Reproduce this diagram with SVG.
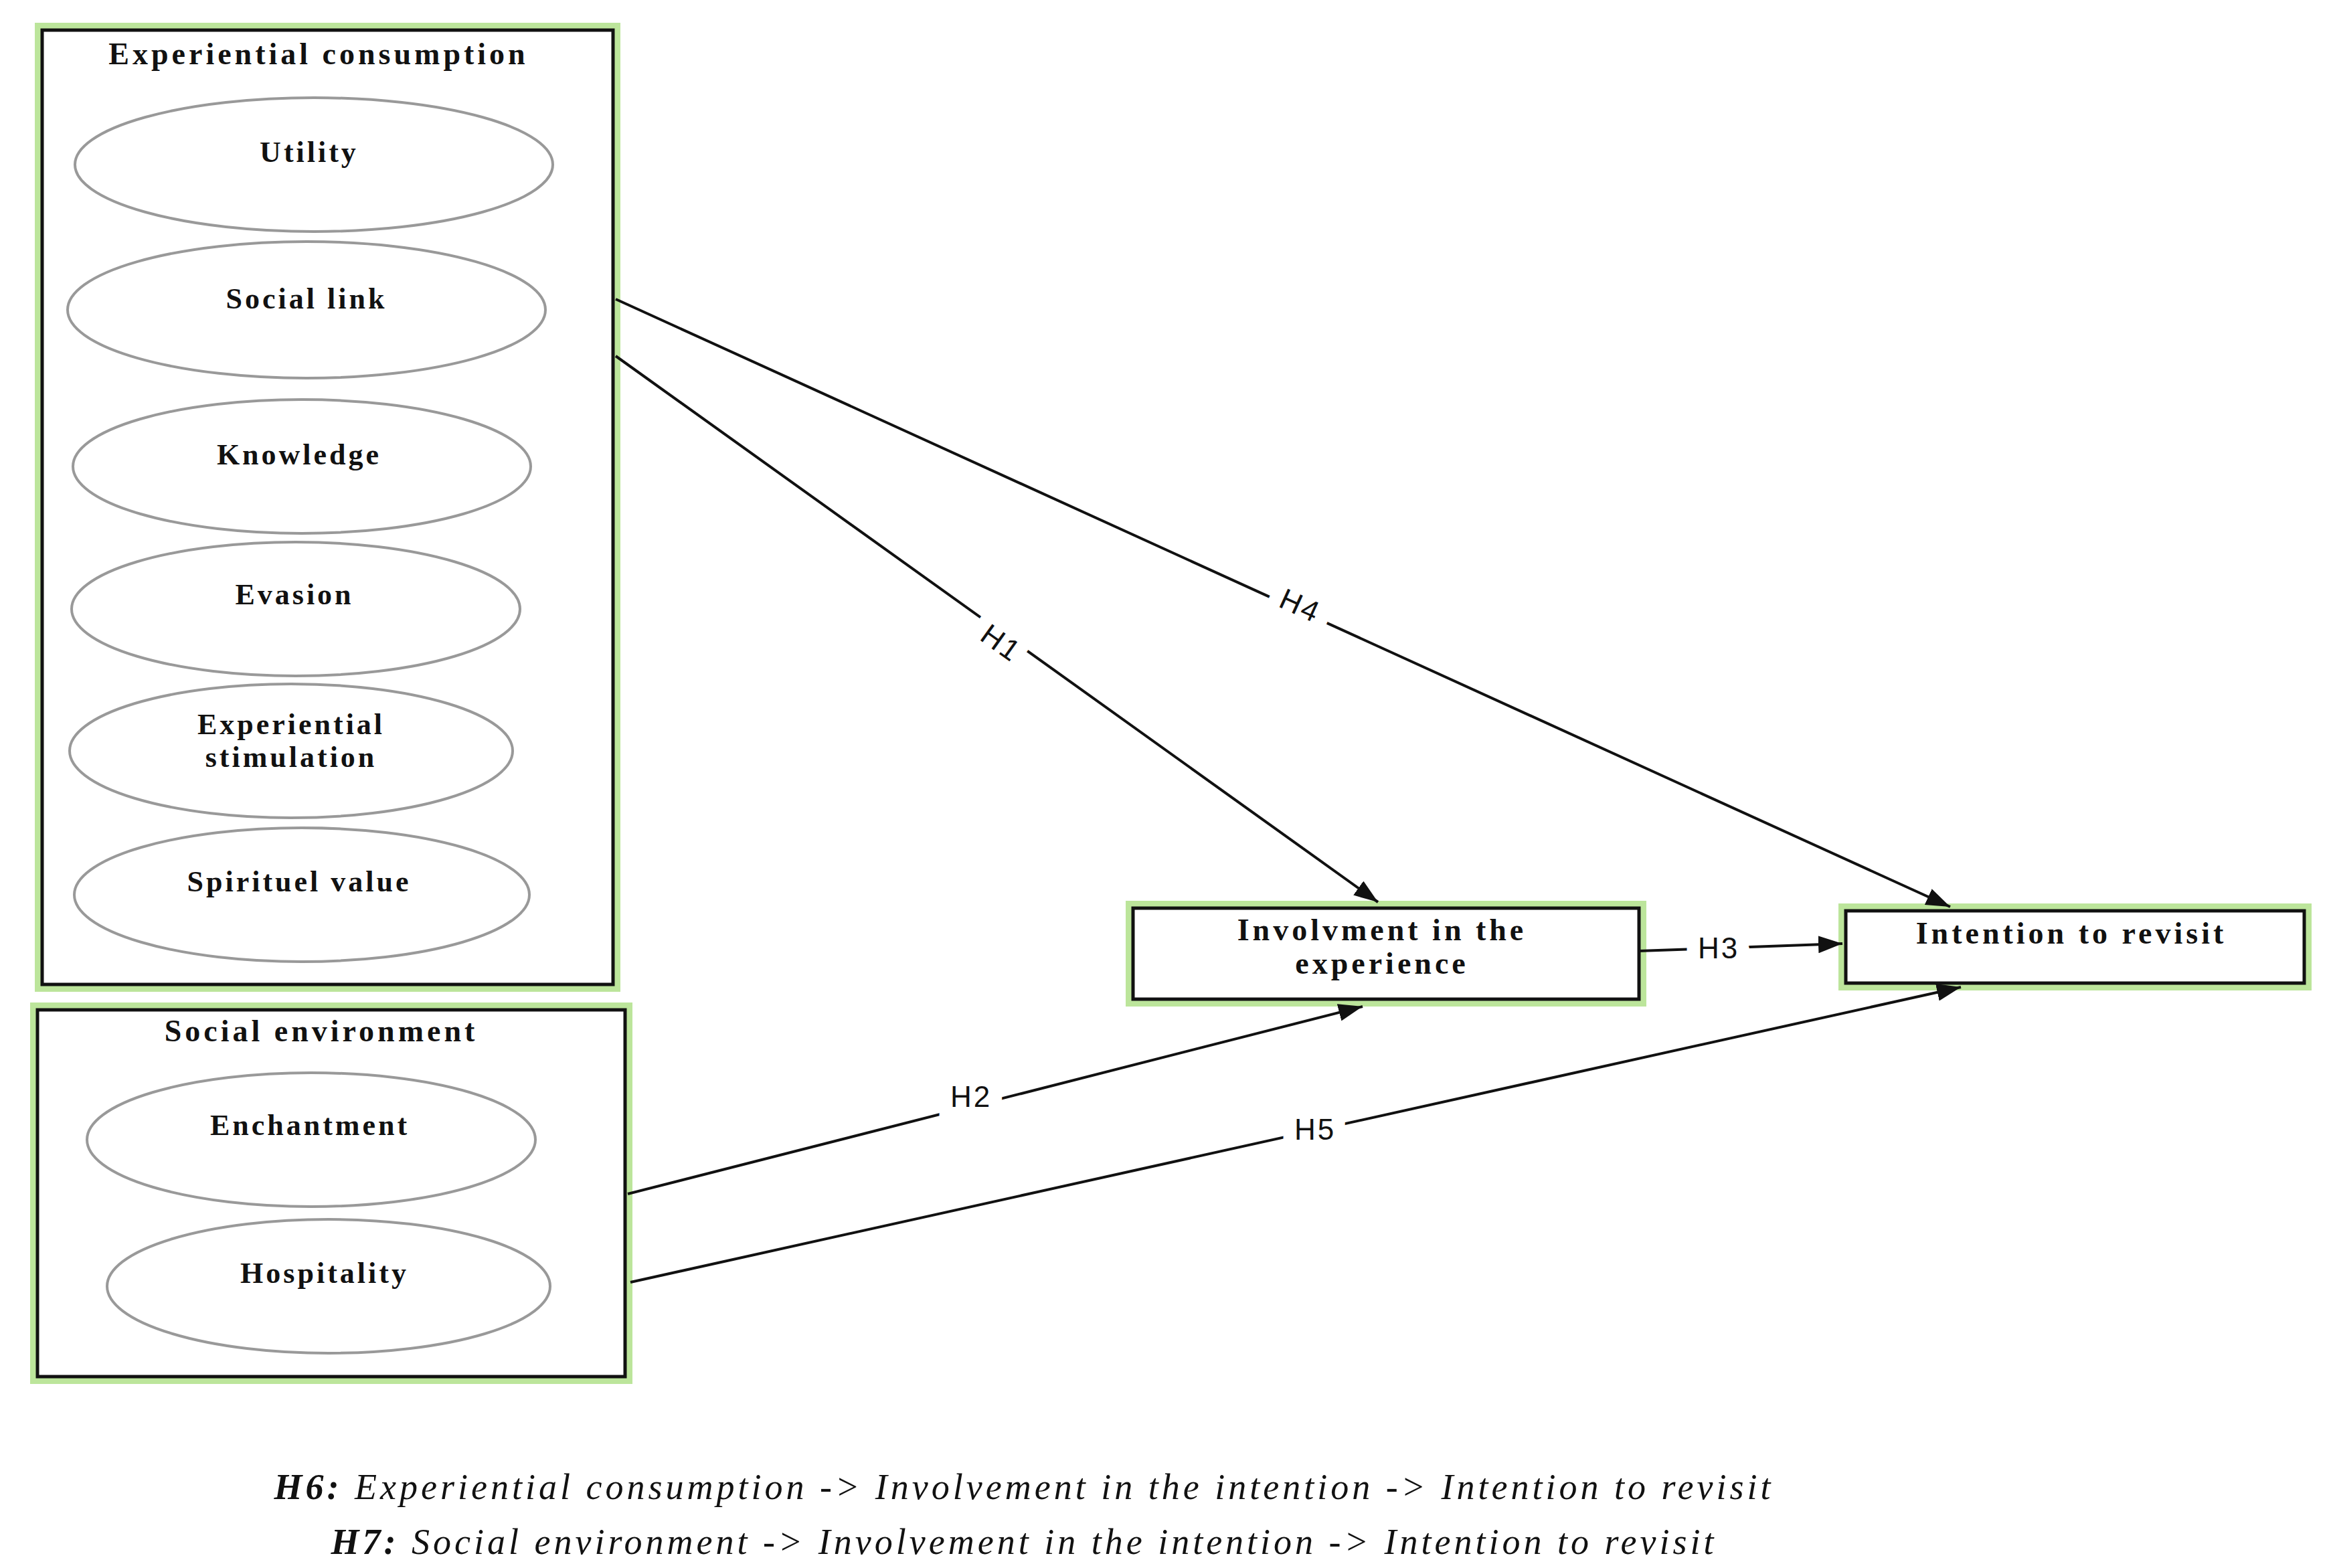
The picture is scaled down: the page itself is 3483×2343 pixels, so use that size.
<svg xmlns="http://www.w3.org/2000/svg" width="3483" height="2343" viewBox="0 0 3483 2343">
<style>
.glow{fill:none;stroke:#a6dc7a;stroke-width:22;opacity:.75}
.box{fill:#fff;stroke:#111;stroke-width:5}
.ell{fill:#fff;stroke:#999;stroke-width:4}
.t{font-family:"Liberation Serif",serif;font-size:44px;fill:#111;text-anchor:middle;letter-spacing:4px}
.b{font-weight:bold}
.h{font-size:46px;letter-spacing:5px}
.ln{stroke:#111;stroke-width:4;fill:none}
.lab{font-family:"Liberation Sans",sans-serif;font-size:44px;fill:#111;text-anchor:middle;stroke:#fff;stroke-width:40;paint-order:stroke;letter-spacing:3px}
.foot{font-family:"Liberation Serif",serif;font-size:54px;font-style:italic;fill:#111;text-anchor:middle;letter-spacing:5px}
</style>
<defs><marker id="ah" viewBox="0 0 10 10" refX="10" refY="5" markerWidth="36" markerHeight="26" orient="auto" markerUnits="userSpaceOnUse" preserveAspectRatio="none"><path d="M0,0 L10,5 L0,10 z" fill="#111"/></marker></defs>
<g id="experiential">
<rect class="glow" x="63" y="45" width="853" height="1426"/>
<rect class="box" x="63" y="45" width="853" height="1426"/>
<text class="t b h" x="476" y="96">Experiential consumption</text>
<ellipse class="ell" cx="469" cy="246" rx="357" ry="100"/><text class="t b" x="462" y="242">Utility</text>
<ellipse class="ell" cx="458" cy="463" rx="357" ry="102"/><text class="t b" x="458" y="461">Social link</text>
<ellipse class="ell" cx="451" cy="697" rx="342" ry="100"/><text class="t b" x="447" y="694">Knowledge</text>
<ellipse class="ell" cx="442" cy="910" rx="335" ry="100"/><text class="t b" x="440" y="903">Evasion</text>
<ellipse class="ell" cx="435" cy="1122" rx="331" ry="100"/><text class="t b" x="435" y="1097">Experiential</text><text class="t b" x="435" y="1146">stimulation</text>
<ellipse class="ell" cx="451" cy="1337" rx="340" ry="100"/><text class="t b" x="447" y="1332">Spirituel value</text>
</g>
<g id="social">
<rect class="glow" x="56" y="1509" width="878" height="548"/>
<rect class="box" x="56" y="1509" width="878" height="548"/>
<text class="t b h" x="480" y="1556">Social environment</text>
<ellipse class="ell" cx="465" cy="1703" rx="335" ry="100"/><text class="t b" x="463" y="1696">Enchantment</text>
<ellipse class="ell" cx="491" cy="1922" rx="331" ry="100"/><text class="t b" x="485" y="1917">Hospitality</text>
</g>
<g id="involvement">
<rect class="glow" x="1693" y="1357" width="756" height="136"/>
<rect class="box" x="1693" y="1357" width="756" height="136"/>
<text class="t b h" x="2065" y="1405">Involvment in the</text><text class="t b h" x="2065" y="1455">experience</text>
</g>
<g id="intention">
<rect class="glow" x="2758" y="1361" width="685" height="108"/>
<rect class="box" x="2758" y="1361" width="685" height="108"/>
<text class="t b h" x="3095" y="1410">Intention to revisit</text>
</g>
<g id="connectors">
<line class="ln" x1="920" y1="447" x2="2914" y2="1355" marker-end="url(#ah)"/>
<line class="ln" x1="920" y1="532" x2="2059" y2="1348" marker-end="url(#ah)"/>
<line class="ln" x1="938" y1="1784" x2="2036" y2="1504" marker-end="url(#ah)"/>
<line class="ln" x1="942" y1="1916" x2="2930" y2="1475" marker-end="url(#ah)"/>
<line class="ln" x1="2449" y1="1421" x2="2753" y2="1410" marker-end="url(#ah)"/>
<text class="lab" x="1943" y="920" transform="rotate(24.5 1943 905)">H4</text>
<text class="lab" x="1496" y="976" transform="rotate(35.6 1496 961)">H1</text>
<text class="lab" x="1451" y="1654">H2</text>
<text class="lab" x="1965" y="1703">H5</text>
<text class="lab" x="2568" y="1432">H3</text>
</g>
<text class="foot" x="1530" y="2240"><tspan font-weight="bold">H6:</tspan> Experiential consumption -&gt; Involvement in the intention -&gt; Intention to revisit</text>
<text class="foot" x="1530" y="2322"><tspan font-weight="bold">H7:</tspan> Social environment -&gt; Involvement in the intention -&gt; Intention to revisit</text>
</svg>
